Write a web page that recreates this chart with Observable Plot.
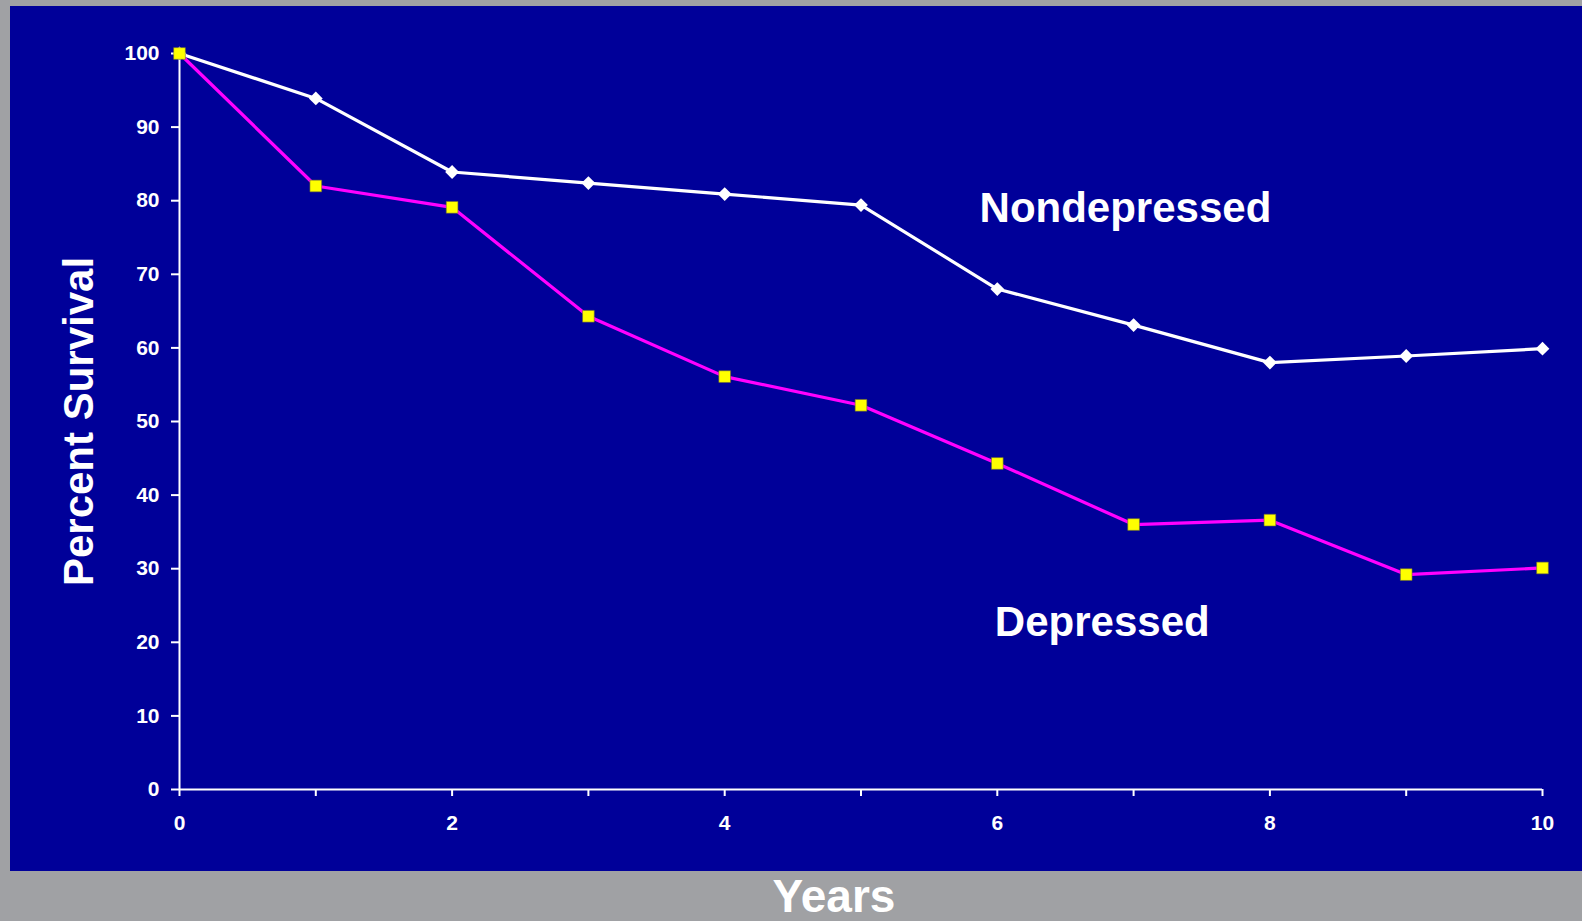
<!DOCTYPE html>
<html>
<head>
<meta charset="utf-8">
<script src="https://cdn.jsdelivr.net/npm/d3@7"></script>
<script src="https://cdn.jsdelivr.net/npm/@observablehq/plot@0.6"></script>
<style>
  html, body { margin: 0; padding: 0; background: #a0a1a4; width: 1582px; height: 921px; overflow: hidden; }
  #panel { position: absolute; left: 10px; top: 6px; width: 1572px; height: 865px; background: #000099; }
  #chart { position: absolute; left: 0; top: 0; }
  #chart svg { background: transparent; }
</style>
</head>
<body>
<div id="panel"></div>
<div id="chart"></div>
<script>
const years = [0, 1, 2, 3, 4, 5, 6, 7, 8, 9, 10];
const nondepressed = [100, 93.9, 83.9, 82.4, 80.9, 79.4, 68.0, 63.1, 58.0, 58.9, 59.9];
const depressed = [100, 82.0, 79.1, 64.3, 56.1, 52.2, 44.3, 36.0, 36.6, 29.2, 30.1];
const yTicks = [0, 10, 20, 30, 40, 50, 60, 70, 80, 90, 100];
const xTicks = [0, 1, 2, 3, 4, 5, 6, 7, 8, 9, 10];
const seriesLabels = ["Nondepressed", "Depressed"];
const labelYears = [6.94, 6.77];
const labelValues = [79.0, 22.7];

const nonData = years.map((x, i) => ({x, y: nondepressed[i]}));
const depData = years.map((x, i) => ({x, y: depressed[i]}));
const labelData = seriesLabels.map((t, i) => ({t, x: labelYears[i], y: labelValues[i]}));

const font = "'Liberation Sans', Arial, sans-serif";

const chart = Plot.plot({
  width: 1582,
  height: 921,
  marginLeft: 179,
  marginRight: 40,
  marginTop: 53,
  marginBottom: 132,
  style: {background: "transparent", color: "white", fontFamily: font, overflow: "visible"},
  x: {domain: [0, 10]},
  y: {domain: [0, 100]},
  marks: [
    Plot.axisY(yTicks, {tickSize: 8, tickPadding: 12, fontSize: 21, fontWeight: "bold", strokeWidth: 2, label: null, fill: "white", stroke: "white"}),
    Plot.axisX(xTicks, {tickSize: 7, tickPadding: 19, fontSize: 21, fontWeight: "bold", strokeWidth: 2, label: null, fill: "white", stroke: "white",
      tickFormat: d => d % 2 === 0 ? String(d) : ""}),
    Plot.ruleX([0], {stroke: "white", strokeWidth: 2}),
    Plot.ruleY([0], {stroke: "white", strokeWidth: 2}),
    Plot.line(nonData, {x: "x", y: "y", stroke: "white", strokeWidth: 3.2}),
    Plot.dot(nonData, {x: "x", y: "y", symbol: "diamond2", r: 6.2, fill: "white", stroke: "none"}),
    Plot.line(depData, {x: "x", y: "y", stroke: "#ff00ff", strokeWidth: 3.2}),
    Plot.dot(depData, {x: "x", y: "y", symbol: "square", r: 6.6, fill: "#ffff00", stroke: "#6b6b33", strokeWidth: 0.6}),
    Plot.text(labelData, {x: "x", y: "y", text: "t", fill: "white", fontSize: 42, fontWeight: "bold", textAnchor: "middle"}),
    Plot.text(["Percent Survival"], {frameAnchor: "left", dx: -100, rotate: -90, fill: "white", fontSize: 42, fontWeight: "bold", textAnchor: "middle"}),
    Plot.text(["Years"], {frameAnchor: "bottom", dx: -27, dy: 122, fill: "white", fontSize: 46, fontWeight: "bold", textAnchor: "middle"})
  ]
});
document.getElementById("chart").appendChild(chart);
</script>
</body>
</html>
